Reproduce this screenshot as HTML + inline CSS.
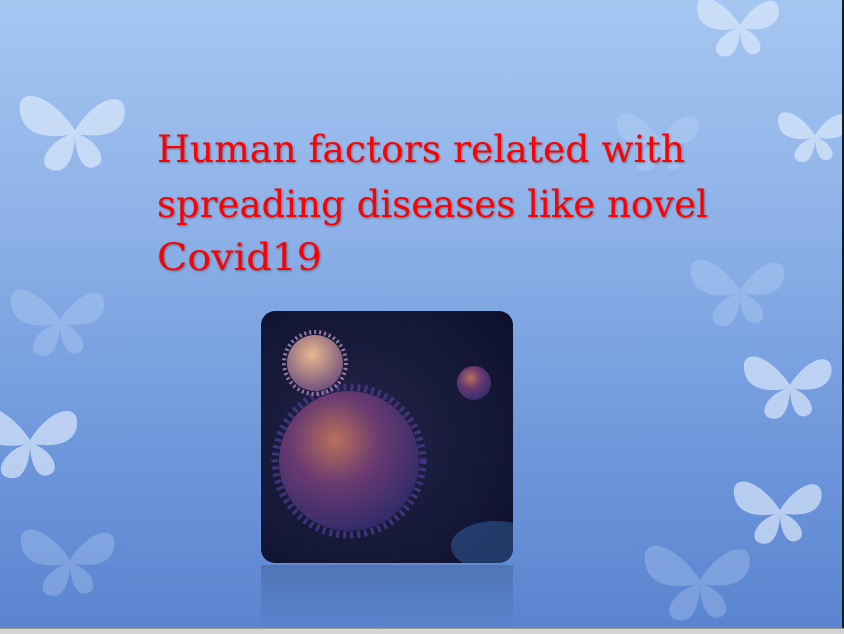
<!DOCTYPE html>
<html><head><meta charset="utf-8"><style>
html,body{margin:0;padding:0;width:844px;height:633px;overflow:hidden;background:#c8c8c8}
#slide{position:absolute;left:0;top:0;width:842px;height:628px;background:linear-gradient(180deg,#a6c6f2 0%,#8eb2e8 35%,#6f98dc 70%,#5a84cf 100%);overflow:hidden}
#edge{position:absolute;left:842px;top:0;width:2px;height:628px;background:#1a1a1a}
#bottom{position:absolute;left:0;top:628px;width:844px;height:5px;background:#d4d4d4;border-top:1px solid #999}
</style></head><body>
<div id="slide">
<svg width="842" height="628" style="position:absolute;left:0;top:0">
<defs><g id="bf"><path d="M0,0 C-30,-45 -70,-50 -60,-15 C-55,5 -30,10 -5,5 C-35,15 -45,45 -20,45 C-5,45 0,20 0,5 Z"/><path d="M0,0 C25,-40 60,-45 55,-15 C50,5 30,8 5,5 C30,15 38,40 18,42 C5,42 0,20 0,5 Z"/></g></defs>
<g fill="#dce9fb" opacity="0.7">
<use href="#bf" transform="translate(75,130) scale(0.9)"/>
<use href="#bf" transform="translate(30,440) scale(0.85)"/>
<use href="#bf" transform="translate(790,385) scale(0.75)"/>
<use href="#bf" transform="translate(780,510) scale(0.75)"/>
<use href="#bf" transform="translate(815,135) scale(0.6)"/>
<use href="#bf" transform="translate(740,25) scale(0.7)"/>
</g>
<g fill="#c6dbf7" opacity="0.3">
<use href="#bf" transform="translate(60,320) scale(0.8)"/>
<use href="#bf" transform="translate(740,290) scale(0.8)"/>
<use href="#bf" transform="translate(660,140) scale(0.7)"/>
<use href="#bf" transform="translate(70,560) scale(0.8)"/>
<use href="#bf" transform="translate(700,580) scale(0.9)"/>
</g>
</svg>
<svg width="842" height="300" style="position:absolute;left:0;top:0">
<g font-family="DejaVu Serif, Liberation Serif, serif" font-size="37" fill="#ff0000" style="filter:drop-shadow(1px 1px 1px rgba(0,0,0,0.35))">
<text x="157" y="162" textLength="528" lengthAdjust="spacingAndGlyphs">Human factors related with</text>
<text x="157" y="217" textLength="551" lengthAdjust="spacingAndGlyphs">spreading diseases like novel</text>
<text x="157" y="270" textLength="165" lengthAdjust="spacingAndGlyphs">Covid19</text>
</g></svg>
<svg width="252" height="320" style="position:absolute;left:261px;top:311px">
<defs>
<radialGradient id="bg" cx="0.4" cy="0.5" r="0.8"><stop offset="0" stop-color="#24244a"/><stop offset="1" stop-color="#0b0f2a"/></radialGradient>
<radialGradient id="v1" cx="0.4" cy="0.35" r="0.7"><stop offset="0" stop-color="#b8705a"/><stop offset="0.45" stop-color="#6a3a70"/><stop offset="1" stop-color="#2e2a6a"/></radialGradient>
<radialGradient id="v2" cx="0.45" cy="0.35" r="0.7"><stop offset="0" stop-color="#e8b890"/><stop offset="1" stop-color="#6a4a7a"/></radialGradient>
<linearGradient id="rf" x1="0" y1="0" x2="0" y2="1"><stop offset="0" stop-color="#203060" stop-opacity="0.25"/><stop offset="1" stop-color="#203060" stop-opacity="0"/></linearGradient>
<clipPath id="c"><rect width="252" height="252" rx="14"/></clipPath>
</defs>
<g clip-path="url(#c)">
<rect width="252" height="252" fill="url(#bg)"/>
<ellipse cx="235" cy="235" rx="45" ry="25" fill="#3a6ab0" opacity="0.45"/>
<circle cx="88" cy="150" r="70" fill="url(#v1)"/>
<circle cx="88" cy="150" r="74" fill="none" stroke="#4a3a8a" stroke-width="7" stroke-dasharray="3 4" opacity="0.8"/>
<circle cx="54" cy="52" r="28" fill="url(#v2)"/>
<circle cx="54" cy="52" r="31" fill="none" stroke="#9a7aa0" stroke-width="4" stroke-dasharray="2 3"/>
<circle cx="213" cy="72" r="17" fill="url(#v1)"/>
</g>
<rect y="254" width="252" height="66" fill="url(#rf)"/>
</svg>
</div>
<div id="edge"></div>
<div id="bottom"></div>
</body></html>
